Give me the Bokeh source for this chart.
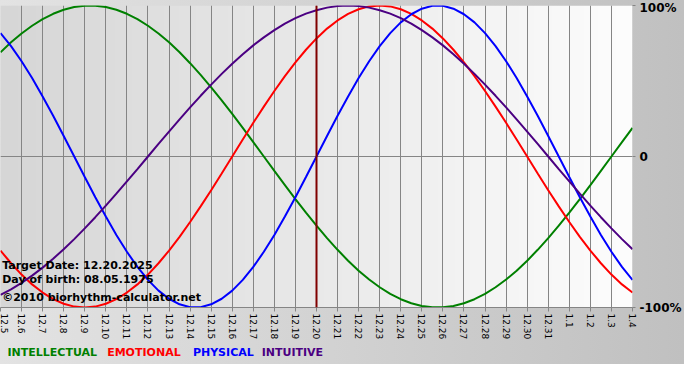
import numpy as np
from bokeh.plotting import figure
from bokeh.layouts import column
from bokeh.models import Range1d, FixedTicker, Span, Label
from bokeh.core.properties import value
from bokeh.embed import file_html
from bokeh.resources import INLINE

# ---- data ----
dates = ["12.5", "12.6", "12.7", "12.8", "12.9", "12.10", "12.11", "12.12", "12.13",
         "12.14", "12.15", "12.16", "12.17", "12.18", "12.19", "12.20", "12.21",
         "12.22", "12.23", "12.24", "12.25", "12.26", "12.27", "12.28", "12.29",
         "12.30", "12.31", "1.1", "1.2", "1.3", "1.4"]

# curves read every half day (position 0 = 12.5, 30 = 1.4)
days = [i / 2 for i in range(61)]

intellectual = [0.690, 0.756, 0.815, 0.866, 0.910, 0.945, 0.972, 0.990, 0.999, 0.999,
                0.990, 0.972, 0.945, 0.910, 0.866, 0.815, 0.756, 0.690, 0.618, 0.541,
                0.458, 0.372, 0.282, 0.189, 0.095, 0.0, -0.095, -0.189, -0.282, -0.372,
                -0.458, -0.541, -0.618, -0.690, -0.756, -0.815, -0.866, -0.910, -0.945,
                -0.972, -0.990, -0.999, -0.999, -0.990, -0.972, -0.945, -0.910, -0.866,
                -0.815, -0.756, -0.690, -0.618, -0.541, -0.458, -0.372, -0.282, -0.189,
                -0.095, 0.0, 0.095, 0.189]
emotional = [-0.623, -0.707, -0.782, -0.847, -0.901, -0.944, -0.975, -0.994, -1.0, -0.994,
             -0.975, -0.944, -0.901, -0.847, -0.782, -0.707, -0.623, -0.532, -0.434, -0.330,
             -0.223, -0.112, 0.0, 0.112, 0.223, 0.330, 0.434, 0.532, 0.623, 0.707,
             0.782, 0.847, 0.901, 0.944, 0.975, 0.994, 1.0, 0.994, 0.975, 0.944,
             0.901, 0.847, 0.782, 0.707, 0.623, 0.532, 0.434, 0.330, 0.223, 0.112,
             0.0, -0.112, -0.223, -0.330, -0.434, -0.532, -0.623, -0.707, -0.782, -0.847,
             -0.901]
physical = [0.817, 0.731, 0.631, 0.520, 0.398, 0.270, 0.136, 0.0, -0.136, -0.270,
            -0.398, -0.520, -0.631, -0.731, -0.817, -0.888, -0.942, -0.979, -0.998, -0.998,
            -0.979, -0.942, -0.888, -0.817, -0.731, -0.631, -0.520, -0.398, -0.270, -0.136,
            0.0, 0.136, 0.270, 0.398, 0.520, 0.631, 0.731, 0.817, 0.888, 0.942,
            0.979, 0.998, 0.998, 0.979, 0.942, 0.888, 0.817, 0.731, 0.631, 0.520,
            0.398, 0.270, 0.136, 0.0, -0.136, -0.270, -0.398, -0.520, -0.631, -0.731,
            -0.817]
intuitive = [-0.916, -0.880, -0.837, -0.789, -0.736, -0.677, -0.614, -0.547, -0.476, -0.402,
             -0.325, -0.246, -0.165, -0.083, 0.0, 0.083, 0.165, 0.246, 0.325, 0.402,
             0.476, 0.547, 0.614, 0.677, 0.736, 0.789, 0.837, 0.880, 0.916, 0.946,
             0.969, 0.986, 0.997, 1.0, 0.997, 0.986, 0.969, 0.946, 0.916, 0.880,
             0.837, 0.789, 0.736, 0.677, 0.614, 0.547, 0.476, 0.402, 0.325, 0.246,
             0.165, 0.083, 0.0, -0.083, -0.165, -0.246, -0.325, -0.402, -0.476, -0.547,
             -0.614]

series_names = ["INTELLECTUAL", "EMOTIONAL", "PHYSICAL", "INTUITIVE"]
series_values = [intellectual, emotional, physical, intuitive]
series_colors = ["#008000", "#ff0000", "#0000ff", "#4b0082"]

y_ticks = [-1, 0, 1]
y_tick_labels = ["-100%", "0", "100%"]

target_date = "12.20"
info_lines = ["Target Date: 12.20.2025", "Day of birth: 08.05.1975",
              "\u00a92010 biorhythm-calculator.net"]

BG = "linear-gradient(to right, #e3e3e3, #c0c0c0)"
W = 684
RIGHT = 50
FRAME_W = W - RIGHT

# ---- main figure ----
xs = list(range(len(dates)))

p = figure(width=W, height=342, output_backend="svg", toolbar_location=None,
           x_range=Range1d(0, len(dates) - 1), y_range=Range1d(-1, 1),
           y_axis_location="right",
           min_border_left=0, min_border_right=RIGHT, min_border_top=5, min_border_bottom=33)
p.border_fill_color = None
p.background_fill_color = None
p.outline_line_color = None
p.styles = {"background": BG}

# plot-area gradient (left grey -> right white)
n = 256
g = np.linspace(0xd6, 0xfd, n).astype(np.uint8)
img = np.zeros((1, n), dtype=np.uint32)
view = img.view(dtype=np.uint8).reshape((1, n, 4))
view[0, :, 0] = g
view[0, :, 1] = g
view[0, :, 2] = g
view[0, :, 3] = 255
p.image_rgba(image=[img], x=0, y=-1, dw=len(dates) - 1, dh=2, level="image")

# grid
p.xgrid.ticker = FixedTicker(ticks=xs)
p.ygrid.ticker = FixedTicker(ticks=y_ticks)
for gr in (p.xgrid, p.ygrid):
    gr.grid_line_color = "#858585"
    gr.grid_line_width = 1
    gr.grid_line_alpha = 1.0

# x axis
xa = p.xaxis[0]
xa.ticker = FixedTicker(ticks=xs)
xa.major_label_overrides = {i: d for i, d in enumerate(dates)}
xa.major_label_orientation = -np.pi / 2
xa.axis_line_color = "#858585"
xa.major_tick_line_color = "#858585"
xa.major_tick_in = 0
xa.major_tick_out = 4
xa.minor_tick_line_color = None
xa.major_label_standoff = 2
xa.major_label_text_font = "DejaVu Sans"
xa.major_label_text_font_size = "9px"
xa.major_label_text_color = "black"

# y axis (right)
ya = p.yaxis[0]
ya.ticker = FixedTicker(ticks=y_ticks)
ya.major_label_overrides = {t: l for t, l in zip(y_ticks, y_tick_labels)}
ya.axis_line_color = None
ya.major_tick_line_color = "#858585"
ya.major_tick_in = 0
ya.major_tick_out = 3
ya.minor_tick_line_color = None
ya.major_label_standoff = 4
ya.major_label_text_font = "DejaVu Sans"
ya.major_label_text_font_style = "bold"
ya.major_label_text_font_size = "12px"
ya.major_label_text_color = "black"

# curves
for vals, col in zip(series_values, series_colors):
    p.line(days, vals, line_color=col, line_width=2)

# target date marker
p.add_layout(Span(location=dates.index(target_date), dimension="height",
                  line_color="#800000", line_width=2))

# info texts
for txt, yv in zip(info_lines, [-0.72, -0.815, -0.935]):
    p.add_layout(Label(x=0.08, y=yv, text=txt, text_font="DejaVu Sans",
                       text_font_style="bold", text_font_size="11px",
                       text_color="black", text_baseline="alphabetic"))

# ---- legend strip below (frame aligned with the main frame) ----
leg = figure(width=W, height=22, output_backend="svg", toolbar_location=None,
             x_range=Range1d(0, FRAME_W), y_range=Range1d(0, 22),
             x_axis_type=None, y_axis_type=None,
             min_border_left=0, min_border_right=RIGHT, min_border_top=0, min_border_bottom=0)
leg.border_fill_color = None
leg.background_fill_color = None
leg.outline_line_color = None
leg.grid.visible = False
leg.styles = {"background": BG}
leg.text(x=[7, 107, 193, 262], y=[12, 12, 12, 12], text=series_names,
         text_color=series_colors, text_font=value("DejaVu Sans"),
         text_font_style="bold", text_font_size="11px", text_baseline="alphabetic")

layout = column(p, leg, spacing=0)
open("out.html", "w").write(file_html(layout, INLINE))
